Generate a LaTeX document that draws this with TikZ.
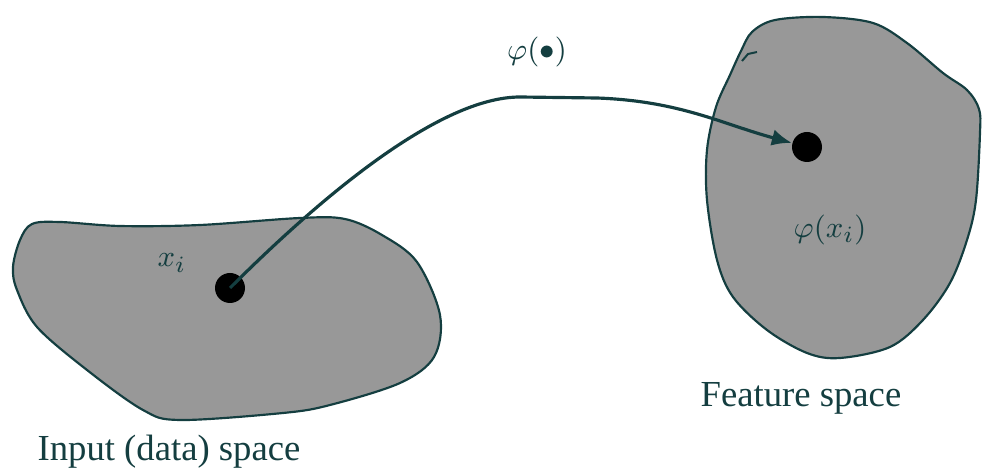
\documentclass[tikz,border=0pt]{standalone}
\usepackage{fontspec}
\setmainfont{Liberation Serif}
\usetikzlibrary{arrows.meta}
\definecolor{ink}{RGB}{20,62,64}
\definecolor{blobfill}{RGB}{152,152,152}
\tikzset{
  blob/.style={draw=ink, line width=0.65pt, fill=blobfill},
  pointdot/.style={circle, fill=black, inner sep=0pt, minimum size=9pt},
  mapping/.style={draw=ink, line width=0.95pt, -{Latex[length=6pt,width=5pt]}},
  lbl/.style={text=ink, font=\fontsize{11}{13}\selectfont, inner sep=1pt},
  mlbl/.style={text=ink, font=\fontsize{9.5}{11}\selectfont, inner sep=1pt},
}
\begin{document}
\begin{tikzpicture}[x=0.3pt,y=0.3pt]
\useasboundingbox (0,0) rectangle (987,475);
% input space blob
\draw[blob] plot[smooth cycle, tension=0.55] coordinates {
 (32,251) (60,253) (120,249) (200,250) (300,257) (345,256) (382,240)
 (417,213) (440,160) (434,118) (400,92) (330,70) (283,62) (180,55)
 (143,65) (87,105) (37,148) (17,185) (13,208) (20,235)};
% feature space blob
\draw[blob] plot[smooth cycle, tension=0.55] coordinates {
 (752,443) (775,455) (823,458) (873,452) (907,432) (943,402) (967,385)
 (979,366) (980,342) (976,275) (967,235) (950,192) (923,155) (890,128)
 (840,117) (807,122) (767,145) (733,178) (717,215) (707,275) (707,325)
 (716,368) (730,400) (741,424)};
% small stray mark on feature blob
\draw[ink, line width=0.6pt] (742,414) -- (748,421) -- (757,423);
% points
\node[pointdot] (d1) at (230,187) {};
\node[pointdot] (d2) at (807,328) {};
% mapping arrow
\coordinate (top1) at (520,378);
\coordinate (top2) at (597,377);
\draw[mapping] (d1.center) .. controls (322,279) and (440,378) .. (top1)
  -- (top2) .. controls (680,374) and (722,351) .. (d2);
% labels
\node[mlbl] (xi) at (172,212) {$x_i$};
\node[mlbl] (phixi) at (830,245) {$\varphi(x_i)$};
\node[mlbl] (phi) at (537,423) {$\varphi(\bullet)$};
\node[lbl] (feat) at (801,77) {Feature space};
\node[lbl] (inp) at (169,23) {Input (data) space};
\end{tikzpicture}
\end{document}
